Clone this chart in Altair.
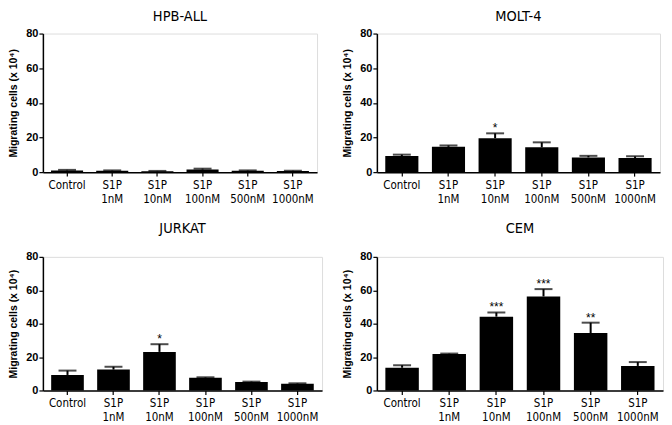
import altair as alt
import pandas as pd

categories = ["Control", "S1P\n1nM", "S1P\n10nM", "S1P\n100nM", "S1P\n500nM", "S1P\n1000nM"]

hpb_mean = [1.0, 0.8, 0.5, 1.5, 0.8, 0.6]
hpb_err = [0.3, 0.2, 0.2, 0.5, 0.2, 0.2]
hpb_sig = ["", "", "", "", "", ""]

molt_mean = [9.3, 14.6, 19.6, 14.3, 8.5, 8.1]
molt_err = [0.8, 0.8, 2.8, 2.9, 0.9, 1.0]
molt_sig = ["", "", "*", "", "", ""]

jurkat_mean = [9.3, 12.5, 23.1, 7.6, 5.0, 4.0]
jurkat_err = [2.6, 1.7, 4.6, 0.3, 0.3, 0.3]
jurkat_sig = ["", "", "*", "", "", ""]

cem_mean = [13.6, 21.9, 44.2, 56.3, 34.4, 14.7]
cem_err = [1.5, 0.2, 2.5, 4.4, 6.2, 2.3]
cem_sig = ["", "", "***", "***", "**", ""]

y_ticks = [0, 20, 40, 60, 80]

LABEL_FONT = "DejaVu Sans Condensed, DejaVu Sans"
AXIS_FONT = "Liberation Sans, Arial"

X_AXIS = alt.Axis(
    title=None,
    labelAngle=0,
    labelExpr="split(datum.label, '\\n')",
    labelFont=LABEL_FONT,
    labelFontSize=11.5,
    labelColor="black",
    labelLineHeight=14,
    labelPadding=3,
    tickSize=4,
    tickColor="black",
    tickWidth=1.2,
    domainColor="black",
    domainWidth=1.5,
    labelBaseline="top",
    labelOverlap=False,
)
Y_AXIS = alt.Axis(
    title="Migrating cells (x 10\u2074)",
    values=y_ticks,
    labelOverlap=False,
    titleFont=AXIS_FONT,
    titleFontSize=10.5,
    titleFontWeight="bold",
    titleColor="black",
    titlePadding=7,
    labelFont=AXIS_FONT,
    labelFontSize=11,
    labelFontWeight="bold",
    labelColor="black",
    labelPadding=1,
    tickSize=4,
    tickColor="black",
    tickWidth=1.2,
    domainColor="black",
    domainWidth=1.5,
    grid=False,
)
X_SCALE = alt.Scale(paddingInner=0.29, paddingOuter=0.18)
Y_SCALE = alt.Scale(domain=[0, 80], nice=False)


def panel(title, means, errs, sigs, width, height, title_offset):
    df = pd.DataFrame({
        "cat": categories,
        "mean": means,
        "upper": [m + e for m, e in zip(means, errs)],
        "sig": sigs,
    })
    x = alt.X("cat:N", sort=categories, scale=X_SCALE, axis=X_AXIS)
    y_mean = alt.Y("mean:Q", scale=Y_SCALE, axis=Y_AXIS)
    y_up = alt.Y("upper:Q", scale=Y_SCALE, axis=Y_AXIS)
    base = alt.Chart(df)
    bars = base.mark_bar(color="black").encode(x=x, y=y_mean)
    err_line = base.mark_rule(color="black", strokeWidth=2).encode(
        x=x, y=y_mean, y2="upper:Q"
    )
    cap = base.mark_tick(color="black", thickness=2, size=18, orient="horizontal").encode(
        x=x, y=y_up
    )
    stars = base.mark_text(
        color="black", fontSize=12, font=AXIS_FONT, baseline="alphabetic", dy=-1
    ).encode(x=x, y=y_up, text="sig:N")
    return alt.layer(bars, err_line, cap, stars).properties(
        width=width,
        height=height,
        title=alt.TitleParams(
            title,
            font=LABEL_FONT,
            fontSize=14.5,
            fontWeight="normal",
            color="black",
            anchor="middle",
            offset=title_offset,
        ),
    )


p1 = panel("HPB-ALL", hpb_mean, hpb_err, hpb_sig, 275, 139, 3)
p2 = panel("MOLT-4", molt_mean, molt_err, molt_sig, 284, 139, 3)
p3 = panel("JURKAT", jurkat_mean, jurkat_err, jurkat_sig, 280, 134, 14)
p4 = panel("CEM", cem_mean, cem_err, cem_sig, 287, 134, 14)

top = alt.hconcat(p1, p2, spacing=24)
bottom = alt.hconcat(p3, p4, spacing=19)

chart = (
    alt.vconcat(top, bottom, spacing=16)
    .properties(padding=0)
    .configure_view(strokeWidth=0)
    .configure(background="white")
)

chart.save("out.html", embed_options={"renderer": "svg", "actions": False})
